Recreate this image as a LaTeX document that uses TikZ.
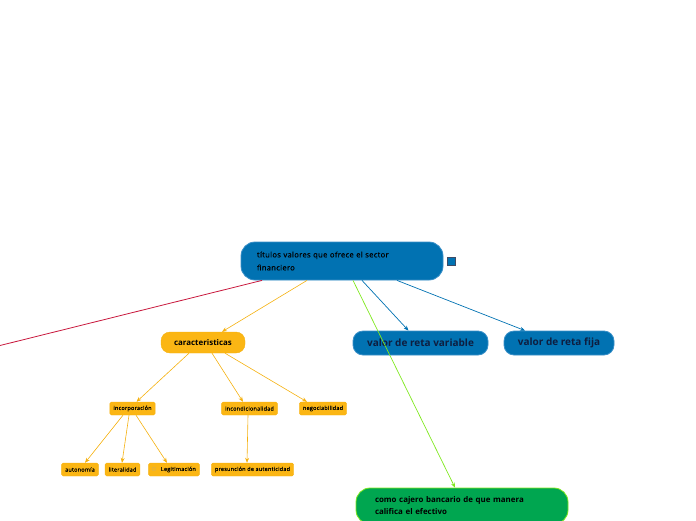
\documentclass[tikz,border=0pt]{standalone}
\usepackage{fontspec}
\setmainfont{Open Sans}
\newfontfamily\medfont[FakeBold=0.5,LetterSpace=4]{Open Sans}
\newfontfamily\symfont{DejaVu Sans}
\usetikzlibrary{arrows.meta}
\definecolor{tblue}{HTML}{0172B2}
\definecolor{tblueb}{HTML}{3A8FC8}
\definecolor{tnavy}{HTML}{0E1E40}
\definecolor{tylw}{HTML}{FBB614}
\definecolor{tylwb}{HTML}{F5B10F}
\definecolor{tgrn}{HTML}{00A650}
\definecolor{tgrnb}{HTML}{7FE81E}
\definecolor{tred}{HTML}{C8173C}
\tikzset{
  tpc/.style={draw=tblueb,fill=tblue,rounded corners=14pt,line width=.8pt,
              minimum width=202pt,minimum height=38pt,text width=170pt,align=left,
              font=\medfont\fontsize{7.6}{13}\selectfont,text=black},
  idbox/.style={draw=tnavy!80,fill=tblue,minimum size=8pt,inner sep=0pt,line width=.5pt},
  blu/.style={draw=tblueb,fill=tblue,rounded corners=10pt,line width=.8pt,
              minimum height=24pt,font=\fontsize{10}{12}\selectfont\bfseries,text=tnavy},
  ylw/.style={draw=tylwb,fill=tylw,rounded corners=9pt,minimum width=84pt,
              minimum height=21pt,font=\fontsize{7.9}{9}\selectfont\bfseries},
  sml/.style={draw=tylwb,fill=tylw,rounded corners=1.5pt,minimum height=13pt,
              inner xsep=3.5pt,inner ysep=0pt,font=\medfont\fontsize{5.5}{7}\selectfont},
  grn/.style={draw=tgrnb,fill=tgrn,rounded corners=14pt,line width=.8pt,
              minimum width=212pt,minimum height=36pt,text width=174pt,align=left,
              font=\fontsize{7.9}{12}\selectfont\bfseries},
  yar/.style={draw=tylwb,line width=.6pt,-{Stealth[length=5pt,width=4pt]}},
  bar/.style={draw=tblue,line width=.7pt,-{Stealth[length=5pt,width=4pt]}},
  gar/.style={draw=tgrnb,line width=.7pt,-{Stealth[length=5pt,width=4pt]}},
  rln/.style={draw=tred,line width=.8pt},
}
\begin{document}
\begin{tikzpicture}[x=1pt,y=-1pt]
  \useasboundingbox (0,0) rectangle (696,520);
  % central topic
  \node[tpc] (main) at (342,261) {títulos valores que ofrece el sector\\financiero};
  \node[idbox] (mainid) at (451,261) {};
  % first level
  \node[ylw] (car) at (203,342.5) {caracteristicas};
  \node[blu,minimum width=135pt] (var)  at (420.5,343) {valor de reta variable};
  \node[blu,minimum width=110pt] (fija) at (559,343)   {valor de reta fija};
  \node[grn] (caj) at (462,506) {como cajero bancario de que manera\\califica el efectivo};
  \coordinate (off) at (-2,346);
  % second level
  \node[sml] (inc)  at (132.5,408.5) {incorporación};
  \node[sml] (incd) at (249.5,408.5) {incondicionalidad};
  \node[sml] (neg)  at (323,408.5)   {negociabilidad};
  % third level
  \node[sml] (aut)  at (80,469.5)    {autonomía};
  \node[sml] (lit)  at (122.5,469.5) {literalidad};
  \node[sml] (leg)  at (174,469.5)   {{\symfont\fontsize{4}{5}\selectfont\color{black!35}□}\hspace{5pt}Legitimación};
  \node[sml] (pres) at (252.5,469.5) {presunción de autenticidad};
  % connectors
  \draw[rln] ([xshift=-80pt]main.south) -- (off);
  \draw[yar] ([xshift=-35pt]main.south) -- ([xshift=19pt]car.north);
  \draw[bar] ([xshift=20pt]main.south) -- ([xshift=-12pt]var.north);
  \draw[bar] ([xshift=55pt]main.south) -- ([xshift=-34pt]fija.north);
  \draw[gar] ([xshift=11pt]main.south) -- ([xshift=-7pt]caj.north);
  \draw[yar] ([xshift=-14pt]car.south) -- ([xshift=4pt]inc.north);
  \draw[yar] ([xshift=9pt]car.south)   -- ([xshift=-6.5pt]incd.north);
  \draw[yar] ([xshift=22pt]car.south)  -- ([xshift=-16pt]neg.north);
  \draw[yar] ([xshift=-9.5pt]inc.south) -- ([xshift=5pt]aut.north);
  \draw[yar] ([xshift=-3.5pt]inc.south) -- ([xshift=-0.5pt]lit.north);
  \draw[yar] ([xshift=3.5pt]inc.south)  -- ([xshift=-7pt]leg.north);
  \draw[yar] ([xshift=-1.5pt]incd.south) -- ([xshift=-5.5pt]pres.north);
\end{tikzpicture}
\end{document}
